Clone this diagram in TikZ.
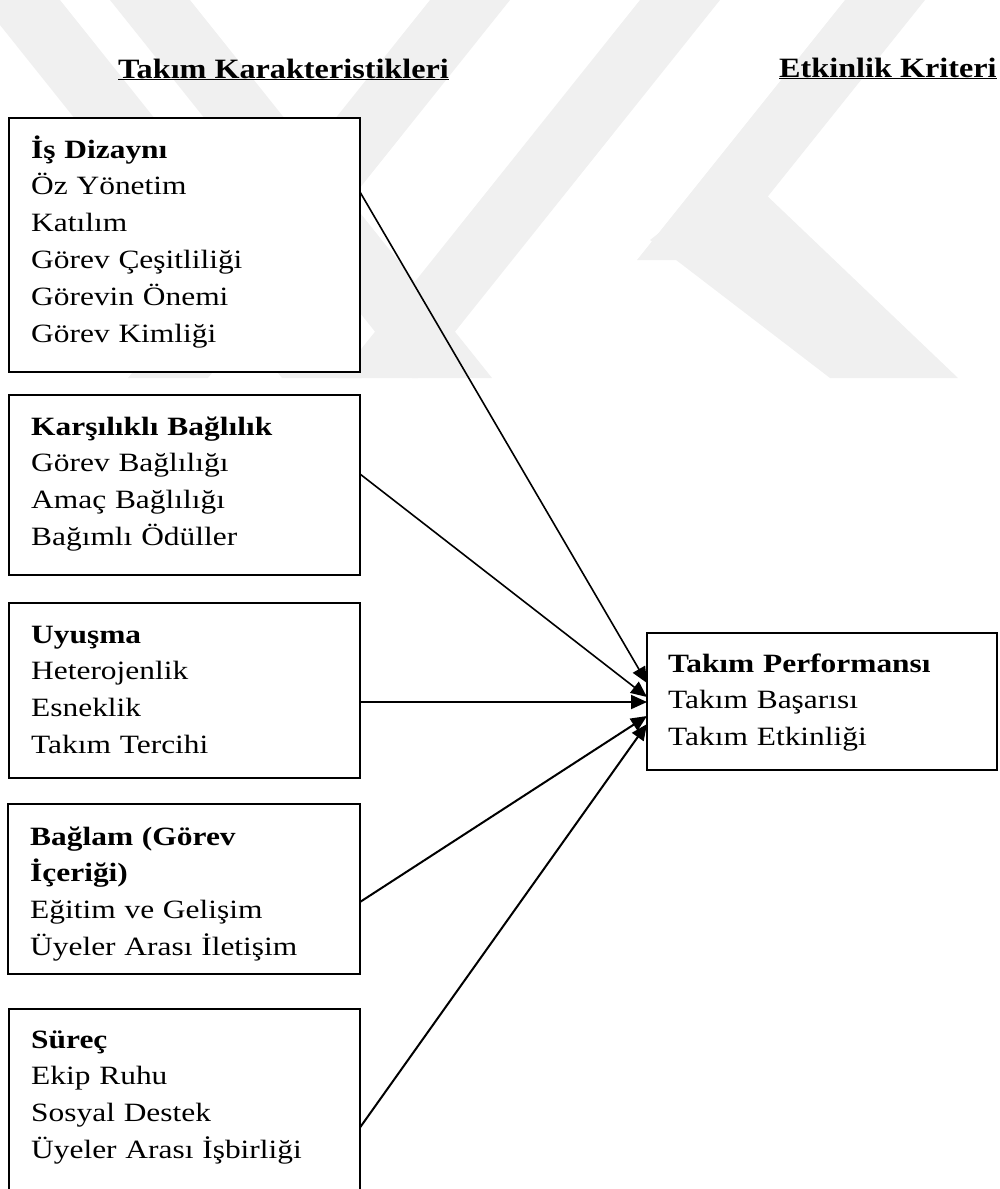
\documentclass[tikz,border=0pt]{standalone}
\usepackage{fontspec}
\setmainfont{Liberation Serif}[FakeStretch=1.19]
\newfontfamily\headfont{Liberation Serif}[FakeStretch=1.15]
\usetikzlibrary{arrows.meta}
\begin{document}
\begin{tikzpicture}[x=1pt,y=-1pt,
  box/.style={draw=black,line width=2pt,fill=white,inner sep=0pt,outer sep=0pt,anchor=north west},
  boxtxt/.style={anchor=base west,inner sep=0pt,text width=330pt,align=left,font=\fontsize{26.4}{36.9}\selectfont},
  head/.style={anchor=base west,inner sep=0pt,font=\headfont\fontsize{28}{32}\selectfont\bfseries},
  conn/.style={line width=2pt,-{Triangle[length=16pt,width=14pt]}},
  wm/.style={fill=black!6,draw=none}]
\useasboundingbox (0,0) rectangle (999,1189);
\clip (0,0) rectangle (999,1189);
% watermark
\fill[wm] (-20,0) -- (60,0) -- (362,378) -- (282,378) -- cycle;
\fill[wm] (110,0) -- (190,0) -- (492,378) -- (412,378) -- cycle;
\fill[wm] (430,0) -- (510,0) -- (208,378) -- (128,378) -- cycle;
\fill[wm] (640,0) -- (720,0) -- (418,378) -- (338,378) -- cycle;
\fill[wm] (845,0) -- (925,0) -- (717,260) -- (637,260) -- cycle;
\fill[wm] (650,240) -- (740,170) -- (958,378) -- (830,378) -- cycle;
% headers
\node[head] (h1) at (118,78) {\underline{Takım Karakteristikleri}};
\node[head] (h2) at (779,77) {\underline{Etkinlik Kriteri}};
% boxes
\node[box,minimum width=351pt,minimum height=254pt] (b1) at (9,118) {};
\node[box,minimum width=351pt,minimum height=180pt] (b2) at (9,395) {};
\node[box,minimum width=351pt,minimum height=175pt] (b3) at (9,603) {};
\node[box,minimum width=352pt,minimum height=170pt] (b4) at (8,804) {};
\node[box,minimum width=351pt,minimum height=206pt] (b5) at (9,1009) {};
\node[box,minimum width=350pt,minimum height=137pt] (tp) at (647,633) {};
% texts
\node[boxtxt] (t1) at (31,158) {\textbf{İş Dizaynı}\\Öz Yönetim\\Katılım\\Görev Çeşitliliği\\Görevin Önemi\\Görev Kimliği};
\node[boxtxt] (t2) at (31,435) {\textbf{Karşılıklı Bağlılık}\\Görev Bağlılığı\\Amaç Bağlılığı\\Bağımlı Ödüller};
\node[boxtxt] (t3) at (31,643) {\textbf{Uyuşma}\\Heterojenlik\\Esneklik\\Takım Tercihi};
\node[boxtxt] (t4) at (30,845) {\textbf{Bağlam (Görev}\\\textbf{İçeriği)}\\Eğitim ve Gelişim\\Üyeler Arası İletişim};
\node[boxtxt] (t5) at (31,1048) {\textbf{Süreç}\\Ekip Ruhu\\Sosyal Destek\\Üyeler Arası İşbirliği};
\node[boxtxt] (tt) at (668,672) {\textbf{Takım Performansı}\\Takım Başarısı\\Takım Etkinliği};
% connectors
\draw[conn,line width=1.6pt] ([yshift=53pt]b1.east) -- ([yshift=18.5pt]tp.west);
\draw[conn,line width=1.6pt] ([yshift=11pt]b2.east) -- ([yshift=4.5pt]tp.west);
\draw[conn] ([yshift=-11.5pt]b3.east) -- ([yshift=-0.5pt]tp.west);
\draw[conn] ([yshift=-13pt]b4.east) -- ([yshift=-14.5pt]tp.west);
\draw[conn] ([yshift=-15.5pt]b5.east) -- ([yshift=-22.5pt]tp.west);
\end{tikzpicture}
\end{document}
